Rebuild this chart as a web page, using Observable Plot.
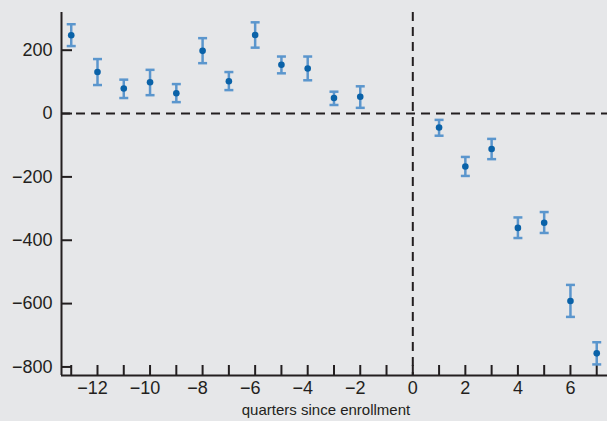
<!DOCTYPE html>
<html>
<head>
<meta charset="utf-8">
<script src="https://cdn.jsdelivr.net/npm/d3@7"></script>
<script src="https://cdn.jsdelivr.net/npm/@observablehq/plot@0.6"></script>
<style>
  html, body { margin: 0; padding: 0; background: #e6e7e9; }
  #chart svg { display: block; background: #e6e7e9; }
</style>
</head>
<body>
<div id="chart"></div>
<script>
// quarters relative to enrollment
const quarters = [-13, -12, -11, -10, -9, -8, -7, -6, -5, -4, -3, -2, 1, 2, 3, 4, 5, 6, 7];
// point estimates
const estimates = [247, 131, 79, 99, 64, 198, 102, 248, 154, 142, 49, 53, -44, -167, -112, -361, -345, -592, -757];
// confidence interval bounds
const upper = [282, 172, 107, 138, 93, 238, 131, 288, 180, 180, 69, 86, -20, -137, -80, -328, -311, -541, -722];
const lower = [213, 90, 49, 58, 36, 159, 74, 208, 127, 105, 27, 18, -70, -197, -144, -393, -377, -642, -792];

const xTicksAll = d3.range(-13, 8);
const xLabelsNeg = [-12, -10, -8, -6, -4, -2];
const xLabelsPos = [0, 2, 4, 6];
const yTicks = [-800, -600, -400, -200, 0, 200];
const xDomain = [-13.37, 7.41];
const yDomain = [-827, 319];

const data = quarters.map((q, i) => ({q, est: estimates[i], hi: upper[i], lo: lower[i]}));

const W = 607, H = 421, mT = 12, mB = 46, mL = 61, mR = 0;
const innerH = H - mT - mB, innerW = W - mL - mR;

const cap = {
  draw(ctx) { ctx.moveTo(-4.5, 0); ctx.lineTo(4.5, 0); }
};

const fontFamily = "'Liberation Sans', Arial, Helvetica, sans-serif";
const barColor = "#5b96cd";
const dotColor = "#0a62a8";
const ink = "#231f20";
const minus = d => d < 0 ? "\u2212" + Math.abs(d) : String(d);

const chart = Plot.plot({
  width: W,
  height: H,
  marginTop: mT,
  marginBottom: mB,
  marginLeft: mL,
  marginRight: mR,
  style: {background: "#e6e7e9", fontFamily, fontSize: "18px", color: ink},
  x: {domain: xDomain},
  y: {domain: yDomain},
  marks: [
    // dashed reference lines
    Plot.ruleY([0], {stroke: ink, strokeWidth: 2, strokeDasharray: "9,6"}),
    Plot.ruleX([0], {stroke: ink, strokeWidth: 2, strokeDasharray: "9,6"}),
    // axis lines
    Plot.ruleX([xDomain[0]], {stroke: ink, strokeWidth: 2}),
    Plot.ruleY([yDomain[0]], {stroke: ink, strokeWidth: 2}),
    // inward ticks
    Plot.tickX(xTicksAll, {x: d => d, stroke: ink, strokeWidth: 2, insetTop: innerH - 10}),
    Plot.tickY(yTicks, {y: d => d, stroke: ink, strokeWidth: 2, insetRight: innerW - 11}),
    // tick labels
    Plot.axisX(xLabelsNeg, {tickSize: 0, tickPadding: 6, dx: -5, label: null, fill: ink, fontSize: 18, tickFormat: minus}),
    Plot.axisX(xLabelsPos, {tickSize: 0, tickPadding: 6, label: null, fill: ink, fontSize: 18, tickFormat: minus}),
    Plot.axisY(yTicks, {tickSize: 0, tickPadding: 9, label: null, fill: ink, fontSize: 18, tickFormat: minus}),
    // error bars
    Plot.ruleX(data, {x: "q", y1: "lo", y2: "hi", stroke: barColor, strokeWidth: 2.5}),
    Plot.dot(data, {x: "q", y: "hi", symbol: cap, stroke: barColor, strokeWidth: 2.5, r: 4}),
    Plot.dot(data, {x: "q", y: "lo", symbol: cap, stroke: barColor, strokeWidth: 2.5, r: 4}),
    // point estimates
    Plot.dot(data, {x: "q", y: "est", r: 3.3, fill: dotColor, stroke: null})
  ]
});
document.getElementById("chart").appendChild(chart);

// x axis title
d3.select(chart).append("text")
  .attr("x", 326)
  .attr("y", 415)
  .attr("text-anchor", "middle")
  .style("font-family", fontFamily)
  .style("font-size", "15px")
  .attr("fill", ink)
  .text("quarters since enrollment");
</script>
</body>
</html>
